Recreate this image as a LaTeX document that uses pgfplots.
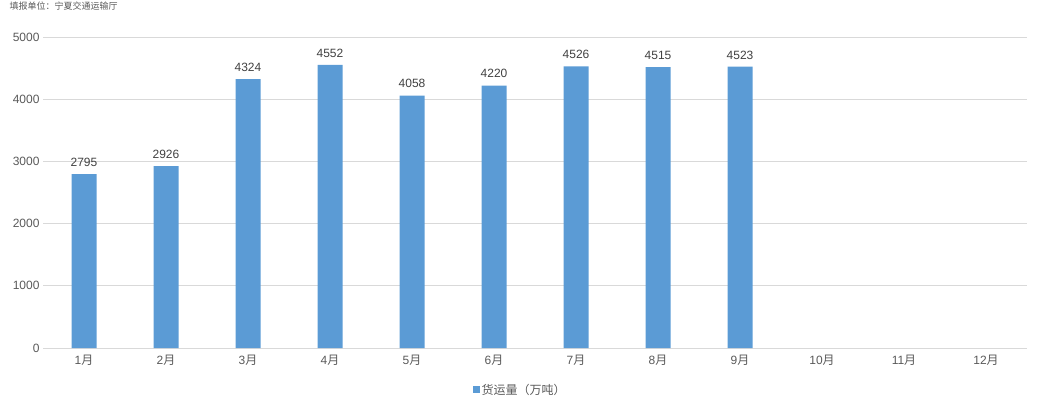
\documentclass[border=0pt]{standalone}
\usepackage{pgfplots}
\pgfplotsset{compat=1.18}
\usepackage{fontspec}
\setmainfont{Liberation Sans}
\newfontfamily\cjk{Noto Sans CJK SC}
\definecolor{barblue}{HTML}{5B9BD5}
\definecolor{txt}{HTML}{595959}
\definecolor{lbl}{HTML}{404040}
\definecolor{gridc}{HTML}{D9D9D9}
\begin{document}
\begin{tikzpicture}[x=1pt,y=1pt]
\useasboundingbox (0,0) rectangle (1039,410);
\node[anchor=west,font=\fontsize{9}{10}\selectfont\cjk,text=txt,inner sep=0] at (9.5,404) {填报单位：宁夏交通运输厅};
\begin{axis}[
  at={(43pt,62pt)}, anchor=south west,
  scale only axis, width=984pt, height=311pt,
  xmin=-0.5, xmax=11.5, ymin=0, ymax=5000,
  xtick={0,...,11},
  xticklabels={1{\cjk 月},2{\cjk 月},3{\cjk 月},4{\cjk 月},5{\cjk 月},6{\cjk 月},7{\cjk 月},8{\cjk 月},9{\cjk 月},10{\cjk 月},11{\cjk 月},12{\cjk 月}},
  ytick={0,1000,2000,3000,4000,5000},
  ymajorgrids, grid style={gridc, line width=0.8pt},
  axis x line*=bottom, axis y line*=left,
  y axis line style={draw=none},
  x axis line style={draw=gridc, line width=0.8pt, -},
  major tick length=0pt,
  /pgf/number format/assume math mode=true,
  /pgf/number format/1000 sep={},
  tick label style={font=\fontsize{12}{14}\selectfont, text=txt},
  yticklabel style={xshift=0pt},
  xticklabel style={yshift=-4pt},
  legend style={at={(0.485,-0.135)}, anchor=center, draw=none, fill=none,
    font=\fontsize{12}{14}\selectfont\cjk, text=txt, legend columns=1},
  legend image code/.code={\fill[barblue] (0pt,-3.5pt) rectangle (7pt,3.5pt);},
]
\addplot[ybar, bar width=25pt, fill=barblue, draw=none,
  nodes near coords, every node near coord/.append style={font=\fontsize{12}{14}\selectfont, text=lbl, yshift=4pt},
  point meta=explicit symbolic]
  coordinates {(0,2795)[2795] (1,2926)[2926] (2,4324)[4324] (3,4552)[4552] (4,4058)[4058] (5,4220)[4220] (6,4526)[4526] (7,4515)[4515] (8,4523)[4523]};
\addlegendentry{货运量（万吨）}
\end{axis}
\end{tikzpicture}
\end{document}
